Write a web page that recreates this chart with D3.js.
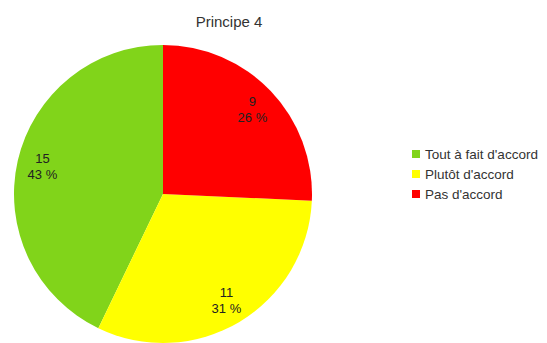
<!DOCTYPE html>
<html>
<head>
<meta charset="utf-8">
<script src="https://cdn.jsdelivr.net/npm/d3@7"></script>
<style>
  html, body { margin: 0; padding: 0; background: #fff; }
  svg { display: block; font-family: "Liberation Sans", Arial, sans-serif; }
</style>
</head>
<body>
<svg id="chart" width="547" height="343"></svg>
<script>
// Réponses au principe 4
const categories = ["Tout à fait d'accord", "Plutôt d'accord", "Pas d'accord"];
const counts = [15, 11, 9];
const colors = ["#81d41a", "#ffff00", "#ff0000"];
const title = "Principe 4";

const svg = d3.select("#chart");
const cx = 163, cy = 194, radius = 149;

svg.append("text")
  .attr("x", 229).attr("y", 27)
  .attr("text-anchor", "middle")
  .attr("font-size", 15)
  .attr("fill", "#333")
  .text(title);

const total = d3.sum(counts);
const pie = d3.pie().sort(null).startAngle(0).endAngle(-2 * Math.PI);
const arcs = pie(counts);

const arc = d3.arc().innerRadius(0).outerRadius(radius);
const labelArc = d3.arc().innerRadius(radius * 0.83).outerRadius(radius * 0.83);

const g = svg.append("g").attr("transform", `translate(${cx},${cy})`);

g.selectAll("path.slice")
  .data(arcs)
  .join("path")
  .attr("class", "slice")
  .attr("d", arc)
  .attr("fill", (d, i) => colors[i]);

const labels = g.selectAll("text.val")
  .data(arcs)
  .join("text")
  .attr("class", "val")
  .attr("transform", d => `translate(${labelArc.centroid(d)})`)
  .attr("text-anchor", "middle")
  .attr("font-size", 13)
  .attr("fill", "#222");

labels.append("tspan")
  .attr("x", 0).attr("y", -3)
  .text(d => d.data);
labels.append("tspan")
  .attr("x", 0).attr("y", 13)
  .text(d => Math.round(d.data / total * 100) + " %");

// Légende
const legend = svg.append("g").attr("transform", "translate(412,150)");
const rows = legend.selectAll("g")
  .data(categories)
  .join("g")
  .attr("transform", (d, i) => `translate(0,${i * 20})`);
rows.append("rect")
  .attr("width", 8).attr("height", 8)
  .attr("fill", (d, i) => colors[i]);
rows.append("text")
  .attr("x", 13).attr("y", 9)
  .attr("font-size", 13.5)
  .attr("fill", "#333")
  .text(d => d);
</script>
</body>
</html>
